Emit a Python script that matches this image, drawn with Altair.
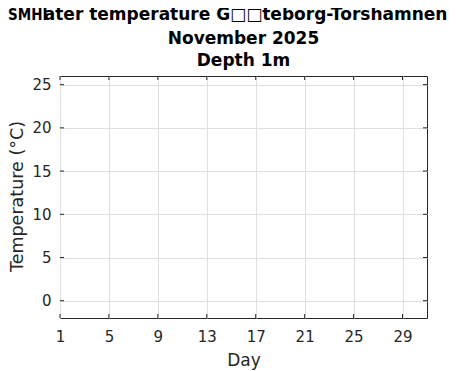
import altair as alt
import pandas as pd

# Data (no observations plotted for the month)
days = list(range(1, 31))
temps = [None] * 30
x_ticks = [1, 5, 9, 13, 17, 21, 25, 29]
y_ticks = [0, 5, 10, 15, 20, 25]
x_domain = [1, 31]
y_domain = [-2, 26]
title_line1 = "Water temperature G\u25a1\u25a1teborg-Torshamnen"
title_rest = ["November 2025", "Depth 1m"]
logo_text = "SMHI"
x_title = "Day"
y_title = "Temperature (\u00b0C)"

W, H = 367, 242
FONT = "DejaVu Sans"
DARK = "#262626"
GRID = "#dfdfdf"

df = pd.DataFrame({"day": days, "temp": temps})
dfx = pd.DataFrame({"day": x_ticks})
dfy = pd.DataFrame({"temp": y_ticks})
one = pd.DataFrame({"a": [0]})

xs = alt.Scale(domain=x_domain, nice=False, zero=False)
ys = alt.Scale(domain=y_domain, nice=False, zero=False)

x_axis = alt.Axis(
    values=x_ticks, grid=True, gridColor=GRID, ticks=False, domain=False,
    labelFlush=False, labelOverlap=False, labelPadding=11, labelFontSize=15,
    labelColor=DARK, labelFont=FONT, title=x_title, titleFont=FONT,
    titleFontSize=17, titleFontWeight="normal", titleColor=DARK,
    titleX=W / 2, titleY=47, titleBaseline="alphabetic", titleAlign="center")
y_axis = alt.Axis(
    values=y_ticks, grid=True, gridColor=GRID, ticks=False, domain=False,
    labelFlush=False, labelOverlap=False, labelPadding=9, labelFontSize=15,
    labelColor=DARK, labelFont=FONT, title=y_title, titleFont=FONT,
    titleFontSize=17.5, titleFontWeight="normal", titleColor=DARK,
    titleX=-38, titleY=H / 2 - 1, titleBaseline="alphabetic", titleAlign="center",
    titleAngle=270)

base = alt.Chart(df).mark_line(color="#1f77b4").encode(
    x=alt.X("day:Q", scale=xs, axis=x_axis),
    y=alt.Y("temp:Q", scale=ys, axis=y_axis),
)

tick_bottom = alt.Chart(dfx).mark_rule(color=DARK).encode(
    x=alt.X("day:Q", scale=xs, axis=x_axis), y=alt.value(H), y2=alt.value(H - 4))
tick_top = alt.Chart(dfx).mark_rule(color=DARK).encode(
    x=alt.X("day:Q", scale=xs, axis=x_axis), y=alt.value(0), y2=alt.value(4))
tick_left = alt.Chart(dfy).mark_rule(color=DARK).encode(
    y=alt.Y("temp:Q", scale=ys, axis=y_axis), x=alt.value(0), x2=alt.value(4))
tick_right = alt.Chart(dfy).mark_rule(color=DARK).encode(
    y=alt.Y("temp:Q", scale=ys, axis=y_axis), x=alt.value(W), x2=alt.value(W - 4))

title1 = alt.Chart(one).mark_text(
    align="center", baseline="alphabetic", fontSize=17, fontWeight="bold",
    font=FONT, color="black").encode(
    x=alt.value(W / 2 - 7), y=alt.value(-56), text=alt.value(title_line1))
title2 = alt.Chart(one).mark_text(
    align="center", baseline="alphabetic", fontSize=17, fontWeight="bold",
    font=FONT, lineHeight=22, color="black").encode(
    x=alt.value(W / 2), y=alt.value(-32), text=alt.value(title_rest))

logo_bg = alt.Chart(one).mark_rect(color="white").encode(
    x=alt.value(-52), x2=alt.value(-16), y=alt.value(-73), y2=alt.value(-53))
logo = alt.Chart(one).mark_text(
    align="left", baseline="alphabetic", fontSize=15, fontWeight="bold",
    font="DejaVu Sans Condensed", color="black").encode(
    x=alt.value(-52), y=alt.value(-56), text=alt.value(logo_text))

chart = alt.layer(
    base, tick_bottom, tick_top, tick_left, tick_right, title1, title2, logo_bg, logo
).properties(
    width=W, height=H,
    autosize=alt.AutoSizeParams(type="none"),
    padding={"left": 52, "top": 68, "right": 36, "bottom": 52},
    background="white",
).configure_view(stroke=DARK, strokeWidth=1)

chart.save("out.html", embed_options={"renderer": "svg", "actions": False})
